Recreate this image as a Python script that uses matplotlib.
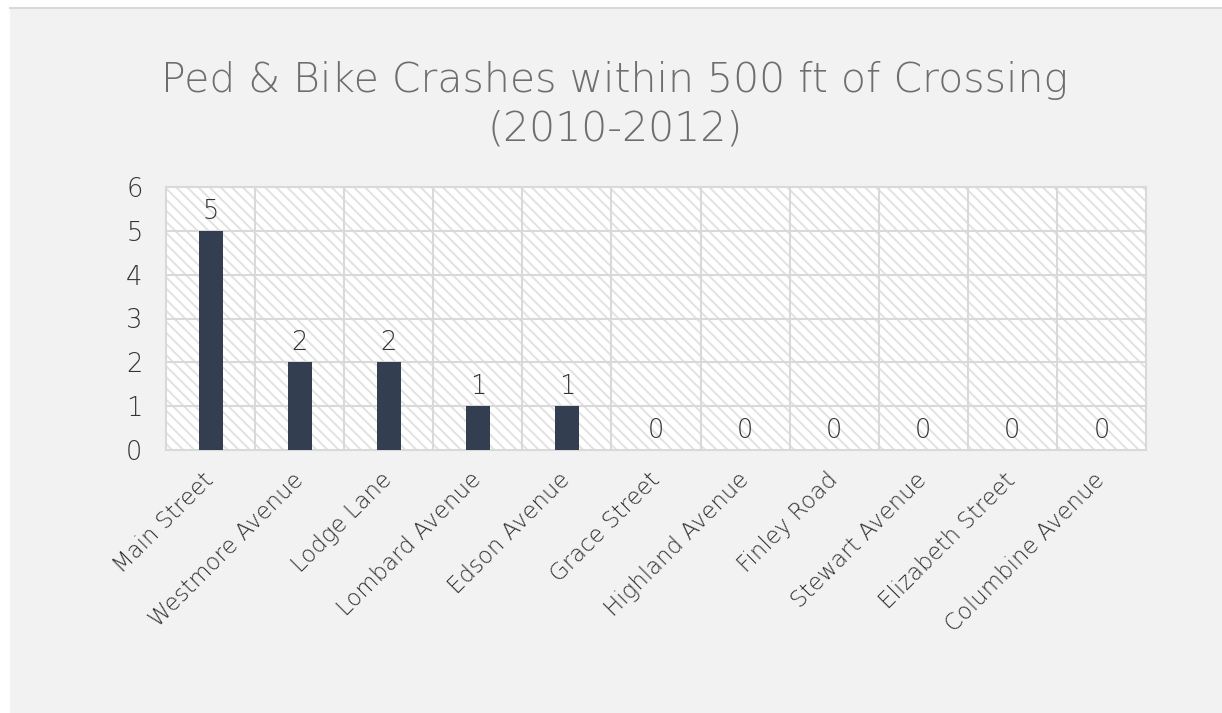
import matplotlib
matplotlib.use('Agg')
import matplotlib.pyplot as plt
from matplotlib.patches import Rectangle
import numpy as np

streets = ['Main Street', 'Westmore Avenue', 'Lodge Lane', 'Lombard Avenue',
           'Edson Avenue', 'Grace Street', 'Highland Avenue', 'Finley Road',
           'Stewart Avenue', 'Elizabeth Street', 'Columbine Avenue']
crashes = [5, 2, 2, 1, 1, 0, 0, 0, 0, 0, 0]
yticks = [0, 1, 2, 3, 4, 5, 6]
title = 'Ped & Bike Crashes within 500 ft of Crossing\n(2010-2012)'

bar_color = '#333f50'
text_color = '#333333'
grid_color = '#d9d9d9'

plt.rcParams['font.family'] = ['DejaVu Sans']
plt.rcParams['font.weight'] = 'light'
plt.rcParams['hatch.linewidth'] = 1.4

fig = plt.figure(figsize=(12.22, 7.13), dpi=100)
fig.patch.set_facecolor('white')
# grey chart panel with thin top border
panel = Rectangle((10 / 1222, 0), 1, 1 - 8 / 713, transform=fig.transFigure,
                  facecolor='#f2f2f2', edgecolor='none', zorder=-10)
fig.patches.append(panel)
fig.add_artist(plt.Line2D([10 / 1222, 1], [1 - 8 / 713] * 2, transform=fig.transFigure,
                          color='#d9d9d9', lw=1.5, zorder=-9))

ax = fig.add_axes([166 / 1222, 1 - 450 / 713, 980 / 1222, 263 / 713])
ax.set_facecolor('white')
bg = Rectangle((0, 0), 1, 1, transform=ax.transAxes, facecolor='white',
               edgecolor='#e2e2e2', hatch='\\\\\\', lw=0, zorder=0)
ax.add_patch(bg)

x = np.arange(len(streets))
ax.bar(x, crashes, width=0.27, color=bar_color, zorder=3)
for xi, v in zip(x, crashes):
    ax.annotate(str(v), (xi, v), xytext=(0, 5), textcoords='offset points',
                ha='center', va='bottom', fontsize=18.5, color=text_color, zorder=4)

ax.set_xlim(-0.5, len(streets) - 0.5)
ax.set_ylim(0, 6)
ax.set_yticks(yticks)
ax.set_yticklabels([str(t) for t in yticks], fontsize=18.5, color=text_color)
ax.set_xticks(x)
ax.set_xticklabels(streets, rotation=45, ha='right', va='center',
                   rotation_mode='anchor', fontsize=16.5, color=text_color)
ax.tick_params(length=0, pad=17)
ax.tick_params(axis='x', pad=19)

for t in yticks[1:]:
    ax.axhline(t, color=grid_color, lw=1.5, zorder=1)
for b in np.arange(0.5, len(streets) - 0.5, 1):
    ax.axvline(b, color=grid_color, lw=1.5, zorder=1)
for s in ax.spines.values():
    s.set_color(grid_color)
    s.set_linewidth(1.5)

fig.text(615 / 1222, 1 - 105 / 713, title, ha='center', va='center',
         fontsize=29.5, color='#6e6e6e', linespacing=1.3)

fig.savefig('out.png', dpi=100)
